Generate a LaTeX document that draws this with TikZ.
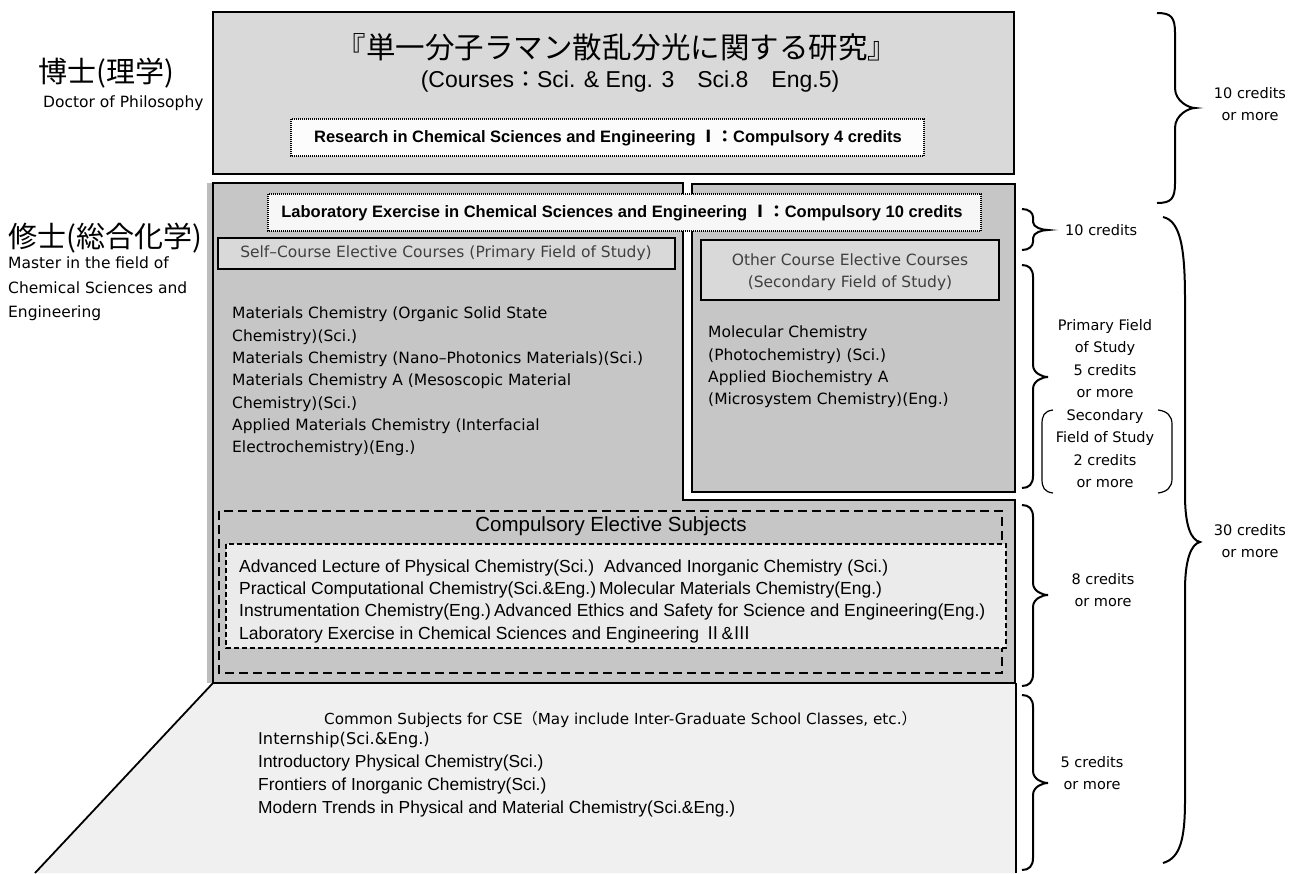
\documentclass[tikz,border=0pt]{standalone}
\usepackage{fontspec}
\setmainfont{DejaVu Sans}
\newfontfamily\ar{Liberation Sans}
\newfontfamily\cjk{Noto Sans CJK JP}
\definecolor{docfill}{HTML}{D9D9D9}
\definecolor{mfill}{HTML}{C6C6C6}
\definecolor{boxfill}{HTML}{D9D9D9}
\definecolor{innerfill}{HTML}{EBEBEB}
\definecolor{botfill}{HTML}{F0F0F0}
\definecolor{labfill}{HTML}{F7F7F7}
\definecolor{resfill}{HTML}{FCFCFC}
\definecolor{shadowc}{HTML}{BDBDBD}
\definecolor{titlegray}{HTML}{404040}
\tikzset{
  every node/.style={inner sep=0pt},
  frame/.style={draw=black, line width=1.8pt},
  thickframe/.style={draw=black, line width=2.6pt},
  dotbox/.style={draw=black, line width=1.2pt, dash pattern=on 1pt off 1pt},
  outerdash/.style={draw=black, line width=2.4pt, dash pattern=on 9pt off 5pt},
  innerdash/.style={draw=black, line width=1.3pt, dash pattern=on 5pt off 3pt},
  bracel/.style={draw=black, line width=2pt},
  parl/.style={draw=black, line width=1.2pt},
  coltext/.style={align=left, anchor=north west, font={\fontsize{15.5}{22.3}\selectfont}},
  credit/.style={align=center, anchor=north, font={\fontsize{14.5}{22.5}\selectfont}},
  comptext/.style={align=left, anchor=north west, font={\ar\fontsize{17.5}{22.3}\selectfont}},
}
% brace: end x, vertical x, tip x, top y, mid y, bottom y, radius
\newcommand{\crbrace}[7]{%
  \draw[bracel] (#1,#4) .. controls ({#2-4},#4) and (#2,{#4+4}) .. (#2,{#4+#7})
    -- (#2,{#5-#7}) .. controls (#2,{#5-#7/3}) and ({#3-6},#5) .. (#3,#5)
    .. controls ({#3-6},#5) and (#2,{#5+#7/3}) .. (#2,{#5+#7})
    -- (#2,{#6-#7}) .. controls (#2,{#6-4}) and ({#2-4},#6) .. (#1,#6);}
\begin{document}
\begin{tikzpicture}[x=1pt,y=-1pt]
\useasboundingbox (0,0) rectangle (1292,873);

% ---------- left labels ----------
\node[anchor=west, font={\cjk\fontsize{29}{34}\selectfont}] (phd) at (38,73) {博士(理学)};
\node[anchor=west, font={\fontsize{15.5}{18}\selectfont}] (phden) at (43,103) {Doctor of Philosophy};
\node[anchor=west, font={\cjk\fontsize{29}{34}\selectfont}] (ms) at (8,238) {修士(総合化学)};
\node[align=left, anchor=north west, font={\fontsize{15.5}{24.5}\selectfont}] (msen) at (8,257) {Master in the field of\\Chemical Sciences and\\Engineering};

% ---------- doctor box ----------
\draw[frame, fill=docfill] (213,12) rectangle (1014,174);
\node[font={\cjk\fontsize{29.5}{34}\selectfont}] (title) at (617,47) {『単一分子ラマン散乱分光に関する研究』};
\node[font={\ar\fontsize{23}{27}\selectfont}] (courses) at (630,82) {(Courses{\cjk ：}Sci. \& Eng. 3{\cjk 　}Sci.8{\cjk 　}Eng.5)};
\draw[dotbox, fill=resfill] (291,119) rectangle (924,156);
\node[font={\ar\bfseries\fontsize{16.5}{20}\selectfont}] (res) at (608,138) {Research in Chemical Sciences and Engineering {\cjk Ⅰ：}Compulsory 4 credits};

% ---------- bottom common section ----------
\fill[botfill] (213,683) -- (1016,683) -- (1016,873) -- (35,873) -- cycle;
\draw[frame] (213,683) -- (35,873);
\draw[frame] (1016,683) -- (1016,873);

% ---------- master area ----------
\fill[shadowc] (207,183) rectangle (213,683);
\draw[frame, fill=mfill] (213,183) -- (683,183) -- (683,500) -- (1015,500) -- (1015,683) -- (213,683) -- cycle;
\draw[frame, fill=mfill] (692,184) rectangle (1015,492);
\draw[line width=2.6pt] (213,683) -- (1016,683);

\draw[dotbox, fill=labfill] (268,194) rectangle (981,231);
\node[font={\ar\bfseries\fontsize{16.5}{20}\selectfont}] (lab) at (622,213) {Laboratory Exercise in Chemical Sciences and Engineering {\cjk Ⅰ：}Compulsory 10 credits};

\draw[thickframe, fill=boxfill] (218,238) rectangle (675,269);
\node[text=titlegray, font={\fontsize{15.5}{18}\selectfont}] (self) at (446,253.5) {Self–Course Elective Courses (Primary Field of Study)};

\draw[thickframe, fill=boxfill] (701,240) rectangle (999,300);
\node[text=titlegray, align=center, font={\fontsize{15.5}{22}\selectfont}] (other) at (850,272) {Other Course Elective Courses\\(Secondary Field of Study)};

\node[coltext] (leftcol) at (232,307) {Materials Chemistry (Organic Solid State\\Chemistry)(Sci.)\\Materials Chemistry (Nano–Photonics Materials)(Sci.)\\Materials Chemistry A (Mesoscopic Material\\Chemistry)(Sci.)\\Applied Materials Chemistry (Interfacial\\Electrochemistry)(Eng.)};

\node[coltext] (rightcol) at (708,326) {Molecular Chemistry\\(Photochemistry)\hspace{5pt}(Sci.)\\Applied Biochemistry A\\(Microsystem Chemistry)(Eng.)};

% ---------- compulsory electives ----------
\draw[outerdash] (219,511) rectangle (1002,673);
\node[font={\ar\fontsize{20.5}{24}\selectfont}] (comptitle) at (611,526) {Compulsory Elective Subjects};
\draw[innerdash, fill=innerfill] (226,544) rectangle (1006,648);
\node[comptext] (complist) at (239,559.5) {Advanced Lecture of Physical Chemistry(Sci.)\hspace{10pt}Advanced Inorganic Chemistry (Sci.)\\Practical Computational Chemistry(Sci.\&Eng.)\hspace{3pt}Molecular Materials Chemistry(Eng.)\\Instrumentation Chemistry(Eng.)\hspace{3pt}Advanced Ethics and Safety for Science and Engineering(Eng.)\\Laboratory Exercise in Chemical Sciences and Engineering {\cjk Ⅱ}\&{\cjk Ⅲ}};

% ---------- common subjects text ----------
\node[anchor=west, font={\fontsize{15.2}{18}\selectfont}] (common) at (324,720) {Common Subjects for CSE{\cjk （}May include Inter-Graduate School Classes, etc.{\cjk ）}};
\node[anchor=west, font={\fontsize{16.2}{20}\selectfont}] (intern) at (258,740) {Internship(Sci.\&Eng.)};
\node[align=left, anchor=north west, font={\ar\fontsize{17.4}{23}\selectfont}] (commonlist) at (258,755) {Introductory Physical Chemistry(Sci.)\\Frontiers of Inorganic Chemistry(Sci.)\\Modern Trends in Physical and Material Chemistry(Sci.\&Eng.)};

% ---------- braces and credits ----------
\crbrace{1157}{1175}{1195}{13}{108}{203}{20}
\node[credit] (cphd) at (1250,87) {10 credits\\or more};

\crbrace{1022}{1033}{1048}{209}{230}{250}{8}
\node[anchor=west, font={\fontsize{14.5}{18}\selectfont}] (clab) at (1065,230) {10 credits};

\crbrace{1022}{1033}{1048}{265}{377}{488}{12}
\node[credit] (cprim) at (1105,319) {Primary Field\\of Study\\5 credits\\or more\\Secondary\\Field of Study\\2 credits\\or more};
\draw[parl] (1053,410) .. controls (1044,411) and (1042,416) .. (1042,424) -- (1042,479) .. controls (1042,487) and (1044,492) .. (1053,493);
\draw[parl] (1158,410) .. controls (1167,411) and (1172,416) .. (1172,424) -- (1172,479) .. controls (1172,487) and (1167,492) .. (1158,493);

\crbrace{1022}{1033}{1048}{505}{595}{686}{12}
\node[credit] (ccomp) at (1103,573) {8 credits\\or more};

\crbrace{1022}{1033}{1048}{695}{783}{870}{12}
\node[credit] (ccommon) at (1092,756) {5 credits\\or more};

\draw[bracel] (1163,217) .. controls (1181,221) and (1185,250) .. (1185,300)
  -- (1185,495) .. controls (1185,526) and (1191,540) .. (1200,542)
  .. controls (1191,544) and (1185,560) .. (1185,590)
  -- (1185,800) .. controls (1185,840) and (1180,858) .. (1163,863);
\node[credit] (cmaster) at (1250,524) {30 credits\\or more};

\end{tikzpicture}
\end{document}
